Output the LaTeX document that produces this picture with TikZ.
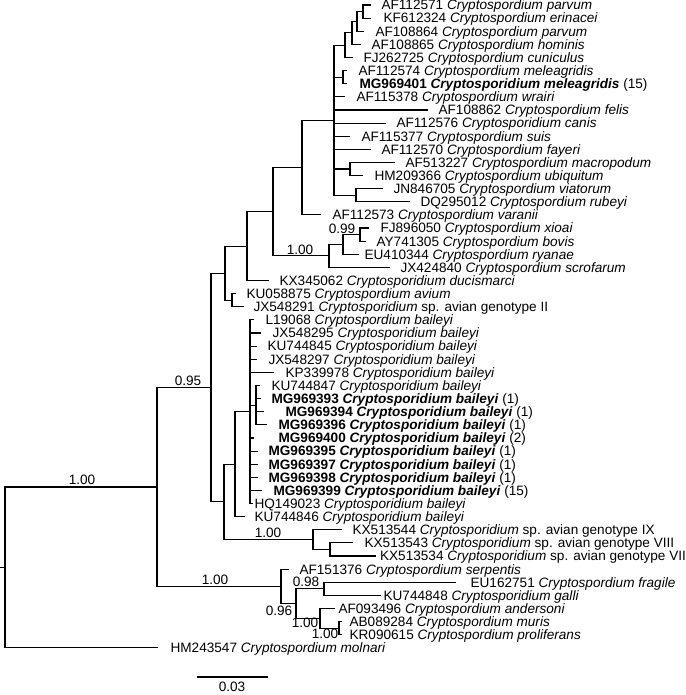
\documentclass[tikz,border=0pt]{standalone}
\usepackage{fontspec}
\setmainfont{Liberation Sans}
\newcommand\labfont{\fontsize{13.6}{15}\selectfont}
\begin{document}
\begin{tikzpicture}[x=1pt,y=-1pt,line width=1.1pt,line cap=rect,
  lab/.style={anchor=west,inner sep=0pt,text height=9.7pt,text depth=0pt,font=\labfont},
  supp/.style={anchor=center,inner sep=0pt,text height=9.7pt,text depth=0pt,font=\labfont},
  br/.style={draw=black}]
\useasboundingbox (0,0) rectangle (685,695);
\clip (0,0) rectangle (685,695);
% internal nodes
\coordinate (R0) at (0,567.4);
\coordinate (R) at (5,567.4);
\coordinate (IN) at (157,487.0);
\coordinate (N95) at (211,387.5);
\coordinate (U1) at (225,273.2);
\coordinate (U2) at (247,246.1);
\coordinate (U3) at (273,211.7);
\coordinate (U4) at (302,167.6);
\coordinate (U5) at (334,120.2);
\coordinate (P1) at (345,45.2);
\coordinate (N350) at (352,32.9);
\coordinate (N357) at (357,21.4);
\coordinate (N363) at (363,11.6);
\coordinate (MEL) at (343,77.2);
\coordinate (MU) at (350,169.0);
\coordinate (VR) at (356,195.2);
\coordinate (N329) at (329,255.9);
\coordinate (N343) at (343,244.4);
\coordinate (XB) at (360,234.6);
\coordinate (AV) at (232,300.2);
\coordinate (A0) at (224,501.9);
\coordinate (B0) at (235,464.2);
\coordinate (BP) at (250,411.7);
\coordinate (SB) at (256,405.2);
\coordinate (G9) at (313,539.6);
\coordinate (G8) at (330,549.5);
\coordinate (N279) at (281,586.4);
\coordinate (N295) at (296,603.6);
\coordinate (FG) at (324,588.8);
\coordinate (AN) at (320,618.4);
\coordinate (MP) at (339,628.2);
% tips and labels
\coordinate (t1) at (370,5.0);   \node[lab] (l1) at (381,5.0) {AF112571 \textit{Cryptospordium parvum}};
\coordinate (t2) at (370,18.1);  \node[lab] (l2) at (383,18.1) {KF612324 \textit{Cryptospordium erinacei}};
\coordinate (t3) at (363,31.2);  \node[lab] (l3) at (375,31.2) {AF108864 \textit{Cryptospordium parvum}};
\coordinate (t4) at (360,44.4);  \node[lab] (l4) at (371,44.4) {AF108865 \textit{Cryptospordium hominis}};
\coordinate (t5) at (352,57.5);  \node[lab] (l5) at (363,57.5) {FJ262725 \textit{Cryptospordium cuniculus}};
\coordinate (t6) at (346,70.6);  \node[lab] (l6) at (358,70.6) {AF112574 \textit{Cryptospordium meleagridis}};
\coordinate (t7) at (346,83.7);  \node[lab] (l7) at (359,83.7) {\textbf{MG969401 \textit{Cryptosporidium meleagridis}} (15)};
\coordinate (t8) at (344,96.8);  \node[lab] (l8) at (356,96.8) {AF115378 \textit{Cryptospordium wrairi}};
\coordinate (t9) at (427,110.0); \node[lab] (l9) at (438,110.0) {AF108862 \textit{Cryptospordium felis}};
\coordinate (t10) at (385,123.1); \node[lab] (l10) at (396,123.1) {AF112576 \textit{Cryptosporidium canis}};
\coordinate (t11) at (349,136.2); \node[lab] (l11) at (361,136.2) {AF115377 \textit{Cryptospordium suis}};
\coordinate (t12) at (370,149.3); \node[lab] (l12) at (381,149.3) {AF112570 \textit{Cryptospordium fayeri}};
\coordinate (t13) at (394,162.4); \node[lab] (l13) at (405,162.4) {AF513227 \textit{Cryptospordium macropodum}};
\coordinate (t14) at (362,175.6); \node[lab] (l14) at (374,175.6) {HM209366 \textit{Cryptospordium ubiquitum}};
\coordinate (t15) at (382,188.7); \node[lab] (l15) at (393,188.7) {JN846705 \textit{Cryptospordium viatorum}};
\coordinate (t16) at (409,201.8); \node[lab] (l16) at (420,201.8) {DQ295012 \textit{Cryptospordium rubeyi}};
\coordinate (t17) at (320,214.9); \node[lab] (l17) at (332,214.9) {AF112573 \textit{Cryptospordium varanii}};
\coordinate (t18) at (368,228.0); \node[lab] (l18) at (380,228.0) {FJ896050 \textit{Cryptospordium xioai}};
\coordinate (t19) at (365,241.2); \node[lab] (l19) at (376,241.2) {AY741305 \textit{Cryptospordium bovis}};
\coordinate (t20) at (358,254.3); \node[lab] (l20) at (364,254.3) {EU410344 \textit{Cryptospordium ryanae}};
\coordinate (t21) at (389,267.4); \node[lab] (l21) at (400,267.4) {JX424840 \textit{Cryptospordium scrofarum}};
\coordinate (t22) at (268,280.5); \node[lab] (l22) at (279,280.5) {KX345062 \textit{Cryptosporidium ducismarci}};
\coordinate (t23) at (235,293.6); \node[lab] (l23) at (246,293.6) {KU058875 \textit{Cryptospordium avium}};
\coordinate (t24) at (243,306.8); \node[lab] (l24) at (253,306.8) {JX548291 \textit{Cryptosporidium} sp. avian genotype II};
\coordinate (t25) at (253,319.9); \node[lab] (l25) at (265,319.9) {L19068 \textit{Cryptospordium baileyi}};
\coordinate (t26) at (260,333.0); \node[lab] (l26) at (272,333.0) {JX548295 \textit{Cryptosporidium baileyi}};
\coordinate (t27) at (256,346.1); \node[lab] (l27) at (267,346.1) {KU744845 \textit{Cryptosporidium baileyi}};
\coordinate (t28) at (256,359.2); \node[lab] (l28) at (268,359.2) {JX548297 \textit{Cryptosporidium baileyi}};
\coordinate (t29) at (273,372.4); \node[lab] (l29) at (285,372.4) {KP339978 \textit{Cryptosporidium baileyi}};
\coordinate (t30) at (259,385.5); \node[lab] (l30) at (271,385.5) {KU744847 \textit{Cryptosporidium baileyi}};
\coordinate (t31) at (260,398.6); \node[lab] (l31) at (271,398.6) {\textbf{MG969393 \textit{Cryptosporidium baileyi}} (1)};
\coordinate (t32) at (263,411.7); \node[lab] (l32) at (285,411.7) {\textbf{MG969394 \textit{Cryptosporidium baileyi}} (1)};
\coordinate (t33) at (266,424.8); \node[lab] (l33) at (278,424.8) {\textbf{MG969396 \textit{Cryptosporidium baileyi}} (1)};
\coordinate (t34) at (253,438.0); \node[lab] (l34) at (278,438.0) {\textbf{MG969400 \textit{Cryptosporidium baileyi}} (2)};
\coordinate (t35) at (257,451.1); \node[lab] (l35) at (268,451.1) {\textbf{MG969395 \textit{Cryptosporidium baileyi}} (1)};
\coordinate (t36) at (257,464.2); \node[lab] (l36) at (268,464.2) {\textbf{MG969397 \textit{Cryptosporidium baileyi}} (1)};
\coordinate (t37) at (257,477.3); \node[lab] (l37) at (268,477.3) {\textbf{MG969398 \textit{Cryptosporidium baileyi}} (1)};
\coordinate (t38) at (261,490.4); \node[lab] (l38) at (273,490.4) {\textbf{MG969399 \textit{Cryptosporidium baileyi}} (15)};
\coordinate (t39) at (252,503.6); \node[lab] (l39) at (254,503.6) {HQ149023 \textit{Cryptosporidium baileyi}};
\coordinate (t40) at (244,516.7); \node[lab] (l40) at (254,516.7) {KU744846 \textit{Cryptosporidium baileyi}};
\coordinate (t41) at (341,529.8); \node[lab] (l41) at (352,529.8) {KX513544 \textit{Cryptosporidium} sp. avian genotype IX};
\coordinate (t42) at (352,542.9); \node[lab] (l42) at (364,542.9) {KX513543 \textit{Cryptosporidium} sp. avian genotype VIII};
\coordinate (t43) at (375,556.0); \node[lab] (l43) at (379.5,556.0) {KX513534 \textit{Cryptosporidium} sp. avian genotype VII};
\coordinate (t44) at (288,569.2); \node[lab] (l44) at (299,569.2) {AF151376 \textit{Cryptospordium serpentis}};
\coordinate (t45) at (455,582.3); \node[lab] (l45) at (470,582.3) {EU162751 \textit{Cryptospordium fragile}};
\coordinate (t46) at (380,595.4); \node[lab] (l46) at (383,595.4) {KU744848 \textit{Cryptosporidium galli}};
\coordinate (t47) at (334,608.5); \node[lab] (l47) at (338,608.5) {AF093496 \textit{Cryptospordium andersoni}};
\coordinate (t48) at (341,621.6); \node[lab] (l48) at (349,621.6) {AB089284 \textit{Cryptospordium muris}};
\coordinate (t49) at (341,634.8); \node[lab] (l49) at (349,634.8) {KR090615 \textit{Cryptospordium proliferans}};
\coordinate (t50) at (157,647.9); \node[lab] (l50) at (170,647.9) {HM243547 \textit{Cryptospordium molnari}};
% branches
\draw[br] (R0) -- (R);
\draw[br] (R) |- (IN); \draw[br] (R) |- (t50);
\draw[br] (IN) |- (N95); \draw[br] (IN) |- (N279);
\draw[br] (N95) |- (U1); \draw[br] (N95) |- (A0);
\draw[br] (U1) |- (U2); \draw[br] (U1) |- (AV);
\draw[br] (U2) |- (U3); \draw[br] (U2) |- (t22);
\draw[br] (U3) |- (U4); \draw[br] (U3) |- (N329);
\draw[br] (U4) |- (U5); \draw[br] (U4) |- (t17);
\foreach \c in {P1,MEL,t8,t9,t10,t11,t12,MU,VR} \draw[br] (U5) |- (\c);
\draw[br] (P1) |- (N350); \draw[br] (P1) |- (t5);
\draw[br] (N350) |- (N357); \draw[br] (N350) |- (t4);
\draw[br] (N357) |- (N363); \draw[br] (N357) |- (t3);
\draw[br] (N363) |- (t1); \draw[br] (N363) |- (t2);
\draw[br] (MEL) |- (t6); \draw[br] (MEL) |- (t7);
\draw[br] (MU) |- (t13); \draw[br] (MU) |- (t14);
\draw[br] (VR) |- (t15); \draw[br] (VR) |- (t16);
\draw[br] (N329) |- (N343); \draw[br] (N329) |- (t21);
\draw[br] (N343) |- (XB); \draw[br] (N343) |- (t20);
\draw[br] (XB) |- (t18); \draw[br] (XB) |- (t19);
\draw[br] (AV) |- (t23); \draw[br] (AV) |- (t24);
\draw[br] (A0) |- (B0); \draw[br] (A0) |- (G9);
\draw[br] (B0) |- (BP); \draw[br] (B0) |- (t40);
\foreach \c in {t25,t26,t27,t28,t29,SB,t34,t35,t36,t37,t38,t39} \draw[br] (BP) |- (\c);
\foreach \c in {t30,t31,t32,t33} \draw[br] (SB) |- (\c);
\draw[br] (G9) |- (t41); \draw[br] (G9) |- (G8);
\draw[br] (G8) |- (t42); \draw[br] (G8) |- (t43);
\draw[br] (N279) |- (t44); \draw[br] (N279) |- (N295);
\draw[br] (N295) |- (FG); \draw[br] (N295) |- (AN);
\draw[br] (FG) |- (t45); \draw[br] (FG) |- (t46);
\draw[br] (AN) |- (t47); \draw[br] (AN) |- (MP);
\draw[br] (MP) |- (t48); \draw[br] (MP) |- (t49);
% support values
\node[supp] (s1) at (82,480) {1.00};
\node[supp] (s2) at (188,381) {0.95};
\node[supp] (s3) at (300,250) {1.00};
\node[supp] (s4) at (342,229) {0.99};
\node[supp] (s5) at (268,533) {1.00};
\node[supp] (s6) at (215,580) {1.00};
\node[supp] (s7) at (306,582) {0.98};
\node[supp] (s8) at (279,611) {0.96};
\node[supp] (s9) at (305,623) {1.00};
\node[supp] (s10) at (325,634) {1.00};
% scale bar
\coordinate (sb1) at (198,677);
\coordinate (sb2) at (267,677);
\draw[br] (sb1) -- (sb2);
\node[supp] (sbl) at (232,687) {0.03};
\end{tikzpicture}
\end{document}
